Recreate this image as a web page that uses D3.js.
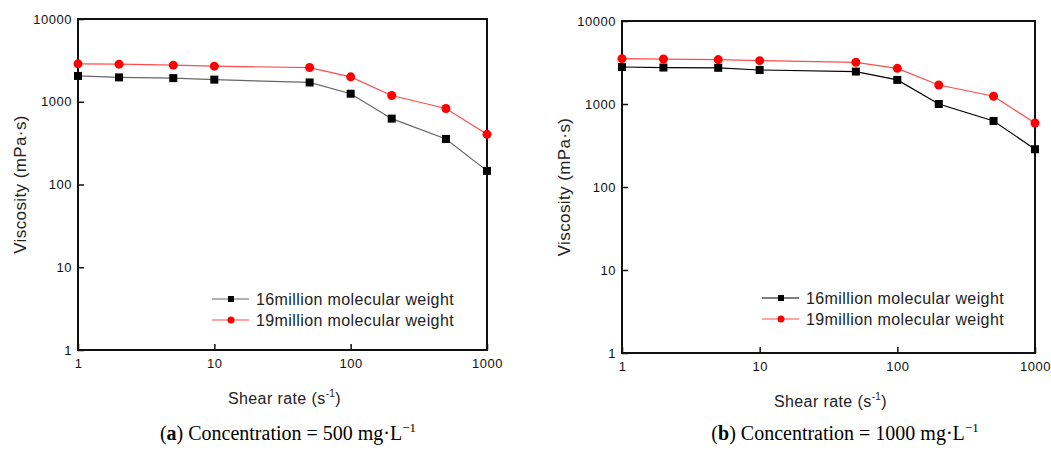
<!DOCTYPE html>
<html>
<head>
<meta charset="utf-8">
<script src="https://cdn.jsdelivr.net/npm/d3@7"></script>
<style>
  body { margin: 0; background: #fff; }
  svg text { font-family: Arial, "Liberation Sans", Helvetica, sans-serif; }
</style>
</head>
<body>
<div id="chart"></div>
<script>
// shear rates (s^-1)
const shearRates = [1, 2, 5, 10, 50, 100, 200, 500, 1000]

// viscosity (mPa·s), panel a: 500 mg/L
const viscA16 = [2050, 1970, 1930, 1850, 1710, 1250, 625, 355, 146]
const viscA19 = [2870, 2845, 2770, 2690, 2590, 2000, 1190, 830, 404]

// viscosity (mPa·s), panel b: 1000 mg/L
const viscB16 = [2790, 2750, 2730, 2570, 2460, 1950, 1000, 625, 285]
const viscB19 = [3520, 3480, 3425, 3330, 3180, 2690, 1695, 1240, 590]

const xTicks = [1, 10, 100, 1000]
const yTicks = [1, 10, 100, 1000, 10000]
const seriesNames = ["16million molecular weight", "19million molecular weight"]

const svg = d3.select("#chart")
    .append("svg")
    .attr("width", 1051)
    .attr("height", 454)

function drawPanel(p) {
    const x = d3.scaleLog().domain([1, 1000]).range([p.left, p.right])
    const y = d3.scaleLog().domain([1, 10000]).range([p.bottom, p.top])
    const g = svg.append("g")

    // tick marks pointing inward
    g.append("g")
        .attr("transform", `translate(0,${p.bottom})`)
        .call(d3.axisBottom(x).tickValues(xTicks).tickSize(-6).tickPadding(9).tickFormat(d3.format("d")))
        .call(a => a.select(".domain").remove())
        .call(a => a.selectAll("line").attr("stroke", "#111").attr("stroke-width", 1.5))
        .call(a => a.selectAll("text").attr("font-size", 13).attr("fill", "#111")
            .attr("letter-spacing", 0.5).attr("font-family", "Arial, 'Liberation Sans', sans-serif"))

    g.append("g")
        .attr("transform", `translate(${p.left},0)`)
        .call(d3.axisLeft(y).tickValues(yTicks).tickSize(-6).tickPadding(6).tickFormat(d3.format("d")))
        .call(a => a.select(".domain").remove())
        .call(a => a.selectAll("line").attr("stroke", "#111").attr("stroke-width", 1.5))
        .call(a => a.selectAll("text").attr("font-size", 13).attr("fill", "#111")
            .attr("letter-spacing", 0.5).attr("font-family", "Arial, 'Liberation Sans', sans-serif"))

    // frame
    g.append("rect")
        .attr("x", p.left)
        .attr("y", p.top)
        .attr("width", p.right - p.left)
        .attr("height", p.bottom - p.top)
        .attr("fill", "none")
        .attr("stroke", "#111")
        .attr("stroke-width", 2)

    const line = d3.line()
        .x((d, i) => x(shearRates[i]))
        .y(d => y(d))

    // red series
    g.append("path")
        .datum(p.red)
        .attr("d", line)
        .attr("fill", "none")
        .attr("stroke", "#ff4d4d")
        .attr("stroke-width", 1.2)

    g.selectAll(".dot")
        .data(p.red)
        .enter()
        .append("circle")
        .attr("cx", (d, i) => x(shearRates[i]))
        .attr("cy", d => y(d))
        .attr("r", 4.5)
        .attr("fill", "#ff0000")

    // black series
    g.append("path")
        .datum(p.black)
        .attr("d", line)
        .attr("fill", "none")
        .attr("stroke", p.blackLine)
        .attr("stroke-width", 1.2)

    g.selectAll(".sq")
        .data(p.black)
        .enter()
        .append("rect")
        .attr("x", (d, i) => x(shearRates[i]) - 4)
        .attr("y", d => y(d) - 4)
        .attr("width", 8)
        .attr("height", 8)
        .attr("fill", "#000")

    // legend
    const leg = g.append("g").attr("transform", `translate(${p.legX},${p.legY})`)
    seriesNames.forEach((name, i) => {
        const row = leg.append("g").attr("transform", `translate(0,${i * 21})`)
        row.append("line")
            .attr("x1", 0).attr("x2", 37)
            .attr("stroke", i === 0 ? p.blackLine : "#ff4d4d")
            .attr("stroke-width", 1.2)
        if (i === 0) {
            row.append("rect").attr("x", 16).attr("y", -3).attr("width", 6).attr("height", 6).attr("fill", "#000")
        } else {
            row.append("circle").attr("cx", 19).attr("cy", 0).attr("r", 3.5).attr("fill", "#ff0000")
        }
        row.append("text")
            .attr("x", 44)
            .attr("y", 6)
            .attr("font-size", 16)
            .attr("letter-spacing", 0.4)
            .attr("fill", "#222")
            .text(name)
    })

    // axis titles
    const mid = (p.left + p.right) / 2
    const xt = g.append("text")
        .attr("x", mid + 2)
        .attr("y", p.bottom + 54)
        .attr("text-anchor", "middle")
        .attr("font-size", 16)
        .attr("letter-spacing", 0.4)
        .attr("fill", "#222")
    xt.append("tspan").text("Shear rate (s")
    xt.append("tspan").attr("font-size", 10).attr("dy", -7).text("-1")
    xt.append("tspan").attr("dy", 7).text(")")

    g.append("text")
        .attr("transform", `translate(${p.left - 52},${(p.top + p.bottom) / 2}) rotate(-90)`)
        .attr("text-anchor", "middle")
        .attr("font-size", 17)
        .attr("letter-spacing", 0.4)
        .attr("fill", "#222")
        .text("Viscosity (mPa·s)")

    // caption
    const cap = g.append("text")
        .attr("x", p.capX)
        .attr("y", 440)
        .attr("text-anchor", "middle")
        .attr("font-size", 20)
        .attr("fill", "#000")
        .style("font-family", "'Palatino Linotype', 'Book Antiqua', 'Liberation Serif', 'DejaVu Serif', serif")
    cap.append("tspan").text("(")
    cap.append("tspan").attr("font-weight", "bold").text(p.letter)
    cap.append("tspan").text(`) Concentration = ${p.conc} mg·L`)
    cap.append("tspan").attr("font-size", 13).attr("dy", -8).text("−1")
}

drawPanel({left: 78, right: 487, top: 19, bottom: 350, black: viscA16, red: viscA19,
    blackLine: "#666", legX: 212, legY: 299, capX: 288, letter: "a", conc: "500"})
drawPanel({left: 622, right: 1035, top: 21, bottom: 353, black: viscB16, red: viscB19,
    blackLine: "#000", legX: 762, legY: 298, capX: 845, letter: "b", conc: "1000"})
</script>
</body>
</html>
